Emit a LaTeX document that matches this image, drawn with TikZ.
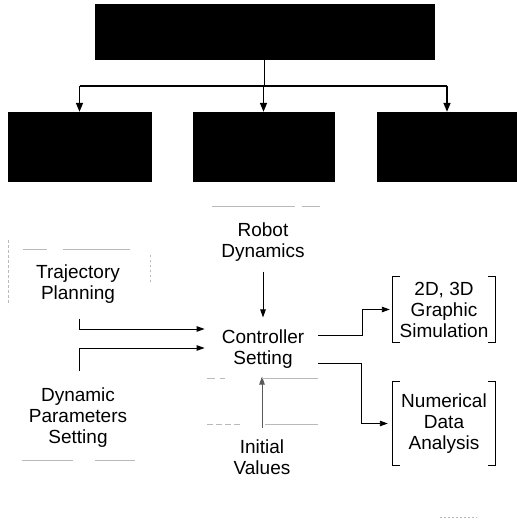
\documentclass[tikz,border=0pt]{standalone}
\usepackage{fontspec}
\setmainfont{Liberation Sans}
\usetikzlibrary{arrows.meta,calc}
\begin{document}
\begin{tikzpicture}[x=1pt,y=-1pt,
  blackbox/.style={fill=black,draw=black,inner sep=0pt},
  txt/.style={align=center,inner sep=0pt,font=\fontsize{19}{21}\selectfont},
  brk/.style={inner sep=0pt},
  toparr/.style={line width=1.6pt,-{Triangle[length=9pt,width=7pt]}},
  topline/.style={line width=1.6pt},
  arr/.style={line width=0.9pt,-{Triangle[length=8pt,width=5.5pt]}},
  faint/.style={gray!55,line width=0.6pt}]
\useasboundingbox (0,0) rectangle (516,524);
% black boxes
\node[blackbox,minimum width=339pt,minimum height=55pt] (top) at (264.5,31.5) {};
\node[blackbox,minimum width=143pt,minimum height=69pt] (bl) at (79.5,146.5) {};
\node[blackbox,minimum width=141pt,minimum height=69pt] (bm) at (263.5,146.5) {};
\node[blackbox,minimum width=139pt,minimum height=69pt] (br) at (447,146.5) {};
\coordinate (j) at (264.5,86);
\draw[topline] (top.south) -- (j);
\draw[topline] (bl.north |- j) -- (br.north |- j);
\draw[toparr] (bl.north |- j) -- (bl.north);
\draw[toparr] (bm.north |- j) -- (bm.north);
\draw[toparr] (br.north |- j) -- (br.north);
% text nodes
\node[txt] (rd) at (263,242) {Robot\\Dynamics};
\node[txt] (tp) at (78,284) {Trajectory\\Planning};
\node[txt] (cs) at (263,349) {Controller\\Setting};
\node[txt] (dp) at (78,418) {Dynamic\\Parameters\\Setting};
\node[txt] (iv) at (262,457) {Initial\\Values};
\node[brk,minimum width=102pt,minimum height=65pt] (gs) at (444,309.5) {};
\node[txt] at (gs.center) {2D, 3D\\Graphic\\Simulation};
\node[brk,minimum width=102pt,minimum height=83pt] (nd) at (444,423.5) {};
\node[txt] at (nd.center) {Numerical\\Data\\Analysis};
% brackets
\foreach \b in {gs,nd}{
  \draw[line width=0.8pt] ($(\b.north west)+(7,0)$) -- (\b.north west) -- (\b.south west) -- ++(7,0);
  \draw[line width=0.8pt] ($(\b.north east)+(-7,0)$) -- (\b.north east) -- (\b.south east) -- ++(-7,0);
}
% connectors
\draw[arr] ($(rd.south)+(0,10)$) -- ($(cs.north)+(0,-12)$);
\draw[arr] ($(tp.south)+(1,15)$) |- ($(cs.west)+(-17,-20)$);
\draw[arr] ($(dp.north)+(1,-17)$) |- ($(cs.west)+(-17,-1)$);
\draw[arr] ($(cs.east)+(14,-14)$) -| ($(gs.west)+(-30,0)$) -- ($(gs.west)+(-3,0)$);
\draw[arr] ($(cs.east)+(14,14)$) -| ($(nd.west)+(-31,0)$) -- ($(nd.west)+(-5,0)$);
\draw[arr,gray!70!black] ($(iv.north)+(0,-11)$) -- ($(cs.south)+(-1,8)$);
% faint box remnants
\draw[faint] (212,206) -- (295,206) (302,206) -- (320,206);
\draw[faint] (23,249) -- (47,249) (63,249) -- (130,249);
\draw[faint,dash pattern=on 3pt off 2pt] (8,240) -- (8,305);
\draw[faint,dash pattern=on 2pt off 3pt] (150,255) -- (150,282);
\draw[faint] (22,460) -- (73,460) (95,460) -- (135,460);
\draw[faint] (207,378) -- (215,378) (220,378) -- (225,378) (262,378) -- (318,378);
\draw[faint,dash pattern=on 6pt off 3pt] (207,424) -- (240,424);
\draw[faint] (265,424) -- (318,424);
\draw[faint,dash pattern=on 2pt off 2pt] (440,517) -- (477,517);
\end{tikzpicture}
\end{document}
